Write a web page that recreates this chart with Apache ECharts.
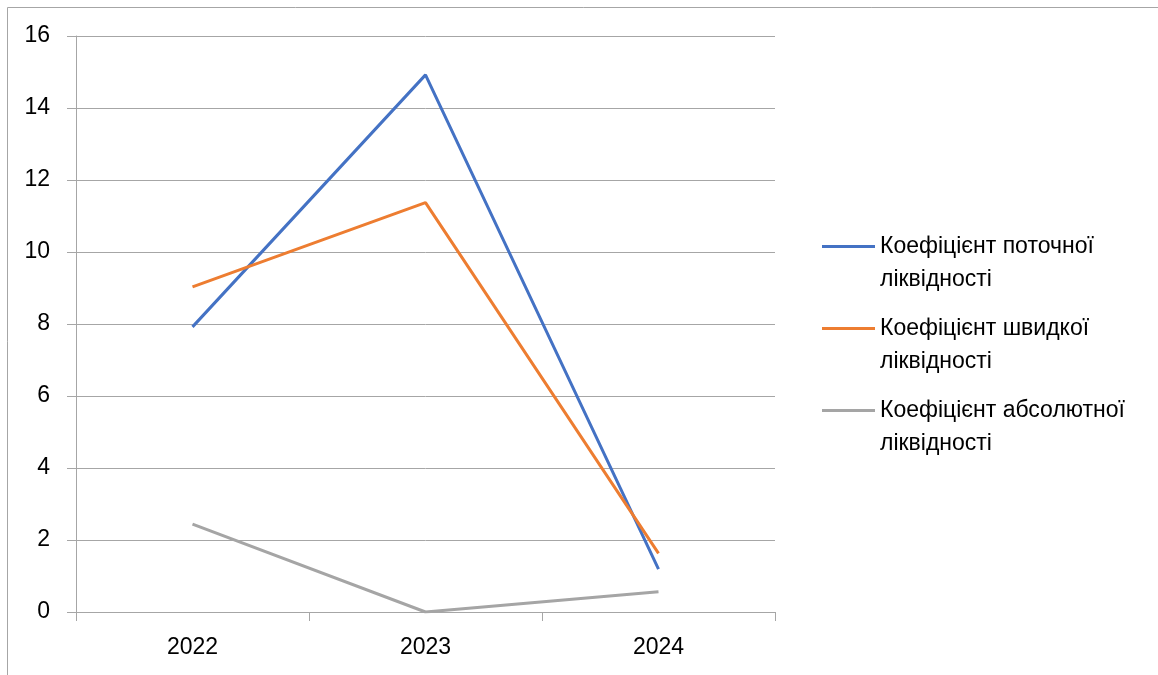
<!DOCTYPE html>
<html>
<head>
<meta charset="utf-8">
<script src="https://cdn.jsdelivr.net/npm/echarts@6/dist/echarts.min.js"></script>
<style>
  html, body { margin: 0; padding: 0; background: #fff; }
  #chart { width: 1158px; height: 675px; }
</style>
</head>
<body>
<div id="chart"></div>
<script>
// роки
const years = ['2022', '2023', '2024']

// назви показників
const seriesNames = [
  'Коефіцієнт поточної ліквідності',
  'Коефіцієнт швидкої ліквідності',
  'Коефіцієнт абсолютної ліквідності'
]

// значення
const currentRatio = [7.92, 14.92, 1.19]
const quickRatio = [9.03, 11.37, 1.63]
const absoluteRatio = [2.44, 0.0, 0.56]

const colors = ['#4472C4', '#ED7D31', '#A5A5A5']
const font = 'Liberation Sans, Arial, sans-serif'

const chart = echarts.init(document.getElementById('chart'))

const makeLine = (name, data, color) => ({
  name,
  type: 'line',
  data,
  symbol: 'none',
  lineStyle: { color, width: 3 },
  itemStyle: { color }
})

const option = {
  animation: false,
  textStyle: { fontFamily: font },
  grid: { left: 76, right: 383, top: 36, bottom: 63 },
  graphic: [{
    type: 'rect',
    shape: { x: 7.5, y: 7.5, width: 1300, height: 800 },
    style: { fill: 'none', stroke: '#a6a6a6', lineWidth: 1 },
    silent: true
  }],
  legend: {
    orient: 'vertical',
    left: 817,
    top: 192,
    itemWidth: 53,
    itemHeight: 3,
    itemGap: -17,
    icon: 'rect',
    data: seriesNames,
    formatter: (name) => {
      const words = name.split(' ')
      return '\n' + words.slice(0, 2).join(' ') + '\n' + words.slice(2).join(' ')
    },
    textStyle: { fontSize: 23, lineHeight: 33, color: '#000', fontFamily: font }
  },
  xAxis: {
    type: 'category',
    data: years,
    boundaryGap: true,
    axisLine: { lineStyle: { color: '#a6a6a6', width: 1 } },
    axisTick: { show: true, length: 9, lineStyle: { color: '#a6a6a6' } },
    axisLabel: { color: '#000', fontSize: 23, margin: 24, fontFamily: font }
  },
  yAxis: {
    type: 'value',
    min: 0,
    max: 16,
    interval: 2,
    axisLine: { show: true, lineStyle: { color: '#a6a6a6', width: 1 } },
    axisTick: { show: true, length: 9, lineStyle: { color: '#a6a6a6' } },
    axisLabel: { color: '#000', fontSize: 23, margin: 26, fontFamily: font },
    splitLine: { lineStyle: { color: '#a6a6a6', width: 1 } }
  },
  series: [
    makeLine(seriesNames[0], currentRatio, colors[0]),
    makeLine(seriesNames[1], quickRatio, colors[1]),
    makeLine(seriesNames[2], absoluteRatio, colors[2])
  ]
}

chart.setOption(option)
</script>
</body>
</html>
